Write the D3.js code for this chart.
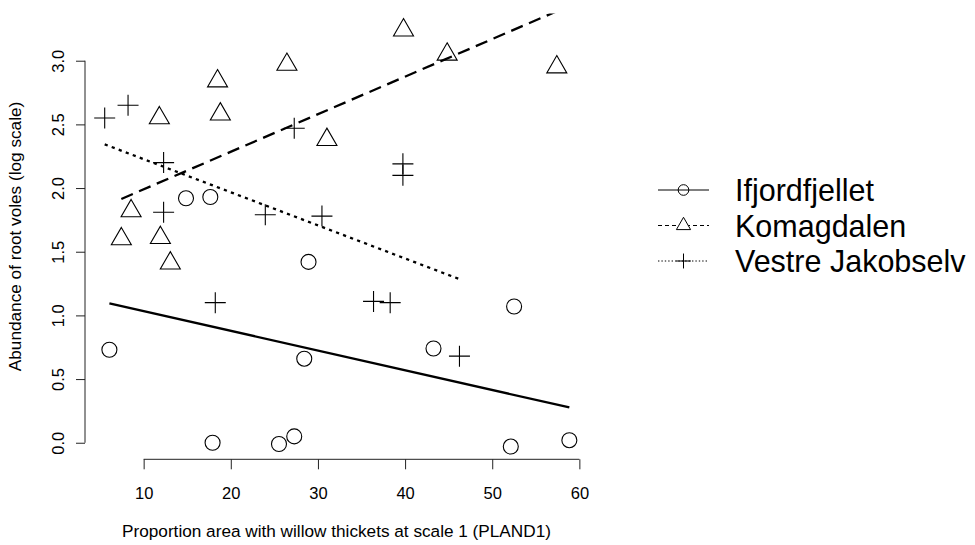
<!DOCTYPE html>
<html>
<head>
<meta charset="utf-8">
<script src="https://cdn.jsdelivr.net/npm/d3@7"></script>
<style>
	body { margin: 0; background: #fff; }
	svg { display: block; font-family: "Liberation Sans", Arial, sans-serif; }
</style>
</head>
<body>
<svg id="chart" width="975" height="545"></svg>
<script>
// Sites, in legend order
const sites = ["Ifjordfjellet", "Komagdalen", "Vestre Jakobselv"];

// Ifjordfjellet (circles)
const ifjordX = [6.07, 14.86, 17.65, 17.91, 25.53, 27.28, 28.43, 28.92, 43.26, 52.13, 52.51, 58.85];
const ifjordY = [0.73, 1.92, 1.93, 0.0, -0.01, 0.05, 0.66, 1.42, 0.74, -0.03, 1.07, 0.02];

// Komagdalen (triangles)
const komagX = [7.44, 8.56, 11.8, 11.92, 13.06, 18.48, 18.8, 26.44, 31.03, 39.82, 44.83, 57.41];
const komagY = [1.60, 1.82, 2.55, 1.61, 1.41, 2.84, 2.58, 2.97, 2.38, 3.24, 3.05, 2.95];

// Vestre Jakobselv (crosses)
const vestreX = [5.53, 8.21, 12.29, 12.29, 18.22, 23.96, 27.28, 30.46, 36.38, 38.29, 39.75, 39.75, 46.24];
const vestreY = [2.55, 2.65, 2.20, 1.81, 1.10, 1.79, 2.47, 1.78, 1.11, 1.10, 2.19, 2.10, 0.68];

// fitted lines per site (intercept, slope)
const fitIntercept = [1.189, 1.695, 2.487];
const fitSlope = [-0.0155, 0.0295, -0.026];

const xTicks = [10, 20, 30, 40, 50, 60];
const yTicks = [0, 0.5, 1, 1.5, 2, 2.5, 3];
const xLim = [3.27, 60.99];
const yLim = [-0.13, 3.37];

const xTitle = "Proportion area with willow thickets at scale 1 (PLAND1)";
const yTitle = "Abundance of root voles (log scale)";

const plot = {left: 85, right: 588, top: 13.6, bottom: 459.3};
const tickFont = 16.5;
const titleFont = 17.2;

const svg = d3.select("#chart");

const x = d3.scaleLinear().domain(xLim).range([plot.left, plot.right]);
const y = d3.scaleLinear().domain(yLim).range([plot.bottom, plot.top]);

svg.append("defs").append("clipPath")
	.attr("id", "plot-clip")
	.append("rect")
	.attr("x", plot.left)
	.attr("y", plot.top)
	.attr("width", plot.right - plot.left)
	.attr("height", plot.bottom - plot.top);

// Axes (R style: line only from first to last tick)
const xAxis = svg.append("g")
	.attr("transform", `translate(0,${plot.bottom})`)
	.call(d3.axisBottom(x).tickValues(xTicks).tickSize(10).tickSizeOuter(0).tickPadding(18));
xAxis.select(".domain").attr("d", `M${x(xTicks[0])},0H${x(xTicks[xTicks.length - 1])}`);

const yAxis = svg.append("g")
	.attr("transform", `translate(${plot.left},0)`)
	.call(d3.axisLeft(y).tickValues(yTicks).tickSize(9).tickSizeOuter(0).tickFormat(d3.format(".1f")));
yAxis.select(".domain").attr("d", `M0,${y(yTicks[0])}V${y(yTicks[yTicks.length - 1])}`);
yAxis.selectAll(".tick text")
	.attr("transform", "rotate(-90)")
	.attr("x", 0)
	.attr("y", -26.7)
	.attr("dy", "0.36em")
	.attr("text-anchor", "middle");

svg.selectAll(".domain, .tick line").attr("stroke", "#222").attr("stroke-width", 1);
svg.selectAll(".tick text")
	.attr("fill", "#000")
	.style("font-family", "'Liberation Sans', Arial, sans-serif")
	.style("font-size", tickFont + "px");

svg.append("text")
	.attr("x", (plot.left + plot.right) / 2)
	.attr("y", 537.3)
	.attr("text-anchor", "middle")
	.style("font-size", titleFont + "px")
	.text(xTitle);

svg.append("text")
	.attr("transform", `translate(21,${(plot.top + plot.bottom) / 2}) rotate(-90)`)
	.attr("text-anchor", "middle")
	.style("font-size", titleFont + "px")
	.text(yTitle);

// Fitted lines
const lineStyles = [null, "12.5,6.8", "3.2,4.3"];
const siteX = [ifjordX, komagX, vestreX];
const siteY = [ifjordY, komagY, vestreY];

const lines = svg.append("g").attr("clip-path", "url(#plot-clip)");
sites.forEach((s, i) => {
	const ext = d3.extent(siteX[i]);
	lines.append("line")
		.attr("x1", x(ext[0]))
		.attr("y1", y(fitIntercept[i] + fitSlope[i] * ext[0]))
		.attr("x2", x(ext[1]))
		.attr("y2", y(fitIntercept[i] + fitSlope[i] * ext[1]))
		.attr("stroke", "#000")
		.attr("stroke-width", 2.3)
		.attr("stroke-dasharray", lineStyles[i]);
});

// Point symbols
function drawSymbol(g, i, scale) {
	if (i === 0) {
		g.append("circle").attr("r", 7.5 * scale);
	} else if (i === 1) {
		g.append("path").attr("d", d3.symbol(d3.symbolTriangle, 173.6 * scale * scale)());
	} else {
		const h = 10.5 * scale;
		g.append("path").attr("d", `M${-h},0H${h}M0,${-h}V${h}`);
	}
}

const points = svg.append("g")
	.attr("fill", "none")
	.attr("stroke", "#000")
	.attr("stroke-width", 1.1);
sites.forEach((s, i) => {
	siteX[i].forEach((v, j) => {
		const g = points.append("g").attr("transform", `translate(${x(v)},${y(siteY[i][j])})`);
		drawSymbol(g, i, 1);
	});
});

// Legend
const legendRows = [190, 225.5, 261];
const legendDash = [null, "4,3", "1.4,2"];
const legend = svg.append("g");
sites.forEach((s, i) => {
	legend.append("line")
		.attr("x1", 658).attr("x2", 709)
		.attr("y1", legendRows[i]).attr("y2", legendRows[i])
		.attr("stroke", "#000")
		.attr("stroke-width", 1)
		.attr("stroke-dasharray", legendDash[i]);
	const g = legend.append("g")
		.attr("transform", `translate(683.5,${legendRows[i]})`)
		.attr("fill", i === 1 ? "#fff" : "none")
		.attr("stroke", "#000")
		.attr("stroke-width", 1);
	drawSymbol(g, i, 0.71);
	legend.append("text")
		.attr("x", 735)
		.attr("y", legendRows[i] + 11)
		.style("font-size", "30.5px")
		.text(s);
});
</script>
</body>
</html>
